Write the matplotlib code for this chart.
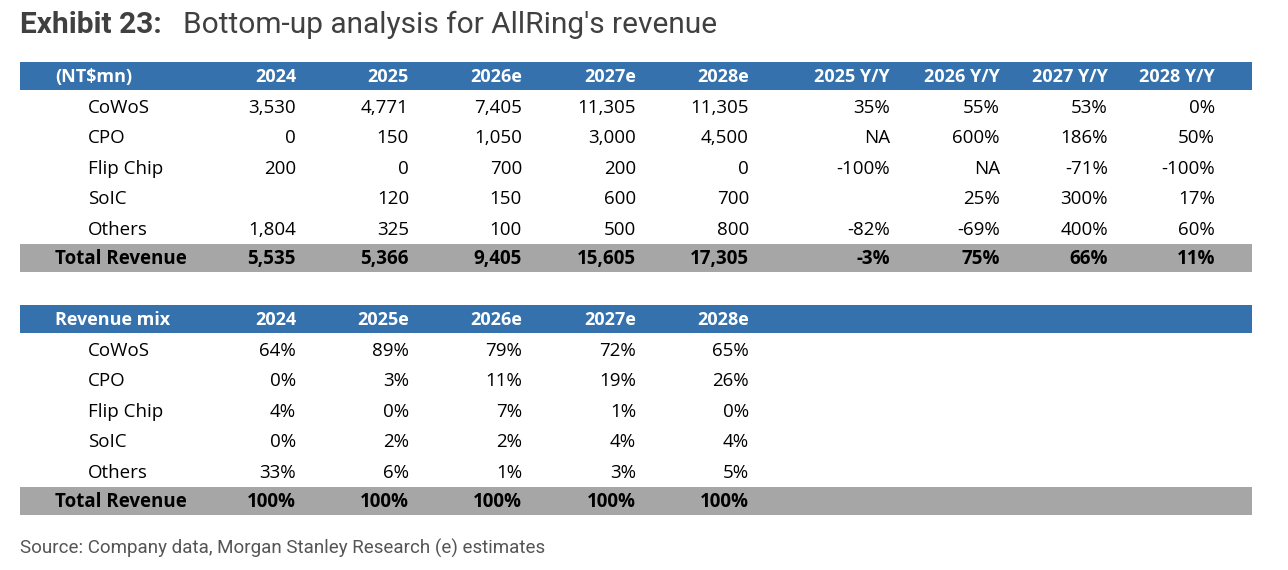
import matplotlib
matplotlib.use("Agg")
import matplotlib.pyplot as plt
from matplotlib.patches import Rectangle

# data
segments = ["CoWoS", "CPO", "Flip Chip", "SoIC", "Others"]
rev_cols = ["2024", "2025", "2026e", "2027e", "2028e", "2025 Y/Y", "2026 Y/Y", "2027 Y/Y", "2028 Y/Y"]
revenue = [
    ["3,530", "4,771", "7,405", "11,305", "11,305", "35%", "55%", "53%", "0%"],
    ["0", "150", "1,050", "3,000", "4,500", "NA", "600%", "186%", "50%"],
    ["200", "0", "700", "200", "0", "-100%", "NA", "-71%", "-100%"],
    ["", "120", "150", "600", "700", "", "25%", "300%", "17%"],
    ["1,804", "325", "100", "500", "800", "-82%", "-69%", "400%", "60%"],
]
revenue_total = ["5,535", "5,366", "9,405", "15,605", "17,305", "-3%", "75%", "66%", "11%"]

mix_cols = ["2024", "2025e", "2026e", "2027e", "2028e"]
mix = [
    ["64%", "89%", "79%", "72%", "65%"],
    ["0%", "3%", "11%", "19%", "26%"],
    ["4%", "0%", "7%", "1%", "0%"],
    ["0%", "2%", "2%", "4%", "4%"],
    ["33%", "6%", "1%", "3%", "5%"],
]
mix_total = ["100%", "100%", "100%", "100%", "100%"]

BLUE = "#3571ad"
GRAY = "#a6a6a6"
col_right = [296, 409, 522, 636, 749, 890, 1000, 1108, 1215]
FONT = "Open Sans"

fig = plt.figure(figsize=(12.88, 5.7), dpi=100)
ax = fig.add_axes([0, 0, 1, 1])
ax.set_xlim(0, 1288)
ax.set_ylim(570, 0)
ax.axis("off")

ax.text(20, 25, "Exhibit 23:", fontsize=21.5, fontweight="bold", color="#404040",
        family="Roboto", va="center")
ax.text(183, 25, "Bottom-up analysis for AllRing's revenue", fontsize=21.5, color="#404040",
        family="Roboto", va="center")


def draw_table(top, header, cols, rows, total):
    ax.add_patch(Rectangle((20, top), 1232, 28, color=BLUE, lw=0))
    yc = top + 15
    ax.text(55, yc, header, color="white", fontsize=13, fontweight="bold", family=FONT, va="center")
    for c, x in zip(cols, col_right):
        ax.text(x, yc, c, color="white", fontsize=13, fontweight="bold", family=FONT,
                va="center", ha="right")
    for i, (name, vals) in enumerate(zip(segments, rows)):
        y = top + 46 + i * 30.4
        ax.text(88, y, name, fontsize=13.5, family=FONT, va="center", color="black")
        for v, x in zip(vals, col_right):
            ax.text(x, y, v, fontsize=13.5, family=FONT, va="center", ha="right", color="black")
    ty = top + 197
    ax.add_patch(Rectangle((20, ty - 15), 1232, 28, color=GRAY, lw=0))
    ax.text(55, ty, "Total Revenue", fontsize=13.5, fontweight="bold", family=FONT, va="center")
    for v, x in zip(total, col_right):
        ax.text(x, ty, v, fontsize=13.5, fontweight="bold", family=FONT, va="center", ha="right")


draw_table(62, "(NT$mn)", rev_cols, revenue, revenue_total)
draw_table(305, "Revenue mix", mix_cols, mix, mix_total)

ax.text(20, 548, "Source: Company data, Morgan Stanley Research (e) estimates", fontsize=13.5,
        color="#555555", family="Roboto", va="center")

fig.savefig("out.png", dpi=100)
